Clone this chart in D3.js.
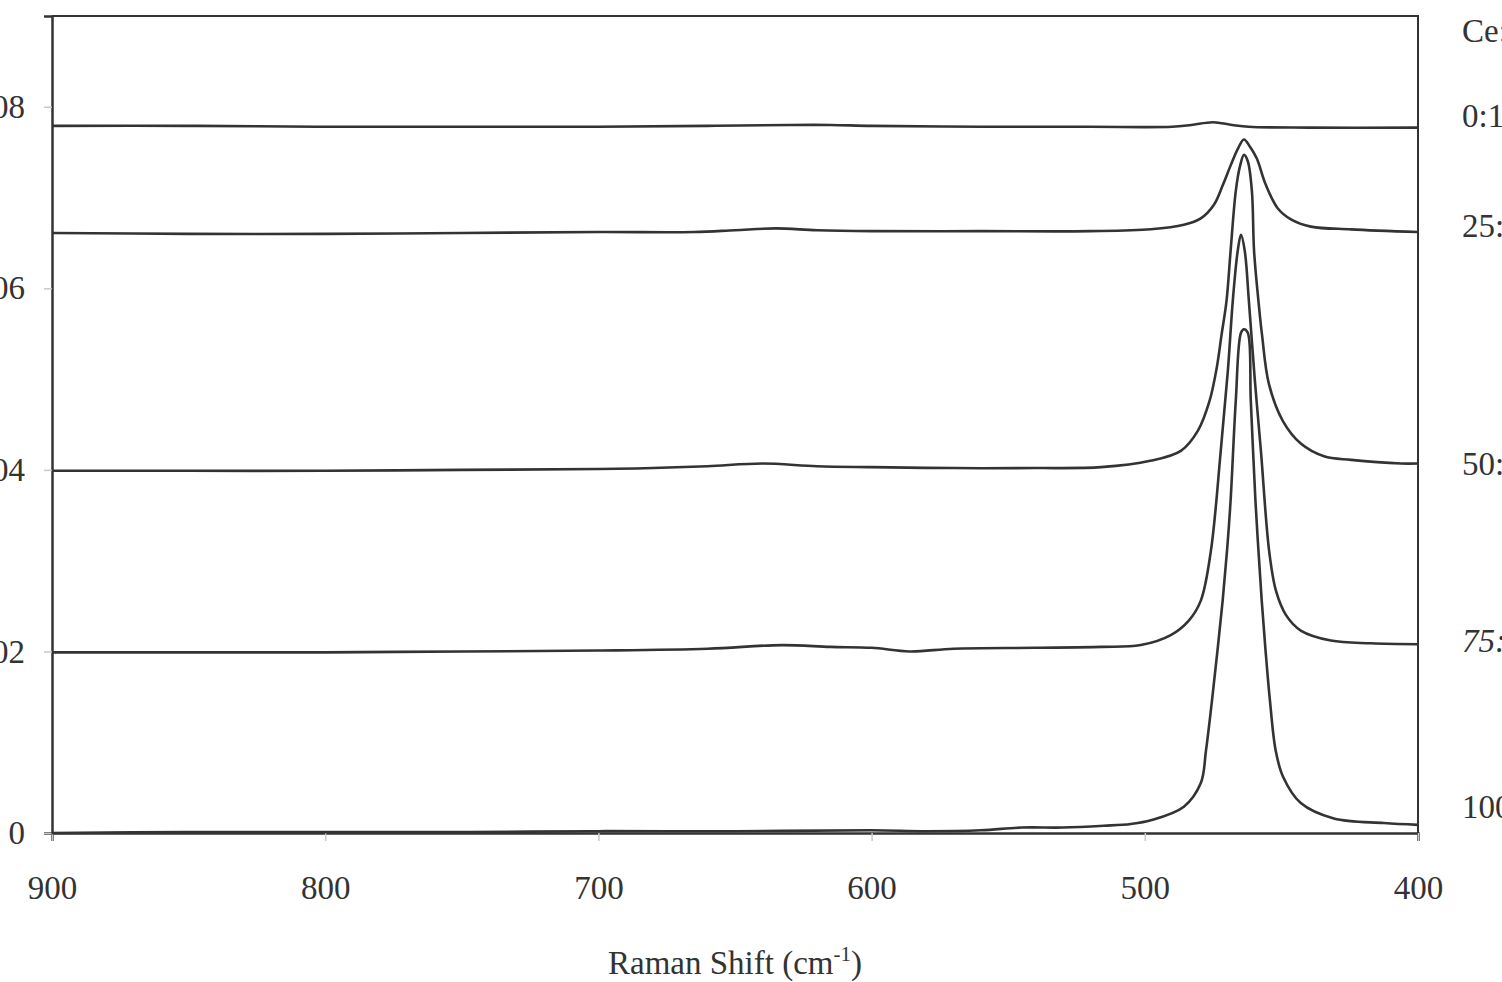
<!DOCTYPE html>
<html>
<head>
<meta charset="utf-8">
<script src="https://cdn.jsdelivr.net/npm/d3@7/dist/d3.min.js"></script>
<style>
  html, body { margin: 0; padding: 0; background: #fff; }
  svg { display: block; }
  text { font-family: "Liberation Serif", "Times New Roman", serif; fill: #333; }
</style>
</head>
<body>
<svg id="chart" width="1502" height="982"></svg>
<script>
// Raman spectra of Ce:Zr mixed oxides, offset vertically for clarity.
// Each series: [Raman shift (cm-1), intensity]
const ceZr_0_100 = [
  [900,0.0779],[850,0.0779],[800,0.0778],[750,0.0778],[700,0.0778],[660,0.0779],
  [630,0.0780],[615,0.0780],[600,0.0779],[560,0.0778],[520,0.0778],[490,0.0778],
  [483,0.0780],[475,0.0783],[468,0.0780],[462,0.0778],[440,0.0777],[400,0.0777]
];
const ceZr_25_75 = [
  [900,0.0661],[850,0.0660],[800,0.0660],[750,0.0661],[700,0.0662],[665,0.0662],
  [650,0.0664],[635,0.0666],[620,0.0664],[600,0.0663],[560,0.0663],[520,0.0663],
  [497.8,0.0665],[485.7,0.0670],[479.5,0.0677],[474.7,0.0692],[471.4,0.0714],
  [468.5,0.0736],[465.9,0.0754],[463.7,0.0764],[461.5,0.0756],[459.0,0.0743],
  [455.7,0.0714],[451.3,0.0688],[446.5,0.0676],[439.2,0.0668],[424.5,0.0665],
  [400,0.0662]
];
const ceZr_50_50 = [
  [900,0.0399],[850,0.0399],[800,0.0399],[750,0.0400],[700,0.0401],[680,0.0402],
  [660,0.0404],[640,0.0407],[620,0.0404],[600,0.0403],[570,0.0402],[540,0.0402],
  [516,0.0403],[498,0.0410],[486.8,0.0421],[480.6,0.0443],[476.3,0.0476],
  [473.7,0.0512],[471.9,0.0549],[470.1,0.0586],[468.6,0.0641],[466.7,0.0707],
  [465.2,0.0734],[463.7,0.0747],[462.3,0.0740],[460.8,0.0707],[460.0,0.0641],
  [458.4,0.0586],[457.1,0.0549],[454.6,0.0495],[449.5,0.0454],[442.9,0.0429],
  [434.4,0.0415],[424.5,0.0411],[406.2,0.0407],[400,0.0407]
];
const ceZr_75_25 = [
  [900,0.0199],[850,0.0199],[800,0.0199],[750,0.0200],[700,0.0201],[660,0.0203],
  [633,0.0207],[615,0.0205],[600,0.0204],[586,0.0200],[570,0.0203],[540,0.0204],
  [516,0.0205],[501.5,0.0207],[490.5,0.0218],[483.9,0.0234],[479.5,0.0256],
  [475.8,0.0311],[472.2,0.0421],[469.6,0.0509],[467.8,0.0586],[466.0,0.0641],
  [464.8,0.0659],[463.4,0.0641],[461.9,0.0586],[459.7,0.0498],[457.5,0.0421],
  [454.5,0.0311],[452.0,0.0267],[448.3,0.0240],[442.9,0.0223],[431.9,0.0212],
  [417.2,0.0209],[400,0.0208]
];
const ceZr_100_0 = [
  [900,0.0000],[850,0.0001],[800,0.0001],[750,0.0001],[700,0.0002],[650,0.0002],
  [600,0.0003],[580,0.0002],[560,0.0003],[545,0.0006],[530,0.0006],[515,0.0008],
  [505.1,0.0010],[497.8,0.0014],[485.7,0.0029],[479.5,0.0055],[477.6,0.0091],
  [475.4,0.0146],[473.4,0.0201],[471.5,0.0256],[469.9,0.0311],[468.6,0.0366],
  [466.7,0.0476],[464.8,0.0551],[463.7,0.0555],[462.3,0.0551],[461.2,0.0476],
  [459.5,0.0366],[458.4,0.0311],[457.2,0.0256],[455.8,0.0201],[454.2,0.0146],
  [452.1,0.0091],[449.4,0.0062],[442.9,0.0033],[430.8,0.0016],[412.5,0.0011],
  [400,0.0009]
];

const seriesList = [ceZr_0_100, ceZr_25_75, ceZr_50_50, ceZr_75_25, ceZr_100_0];
const seriesLabels = ["0:100", "25:75", "50:50", "75:25", "100:0"];
const legendTitle = "Ce:Zr";
const xTicks = [900, 800, 700, 600, 500, 400];
const yTicks = [0, 0.02, 0.04, 0.06, 0.08];

const svg = d3.select("#chart");
const ink = "#333";
const fontSize = 33;

const x = d3.scaleLinear().domain([900, 400]).range([52, 1418]);
const y = d3.scaleLinear().domain([0, 0.09]).range([833, 16]);

// plot frame (top and right edges)
svg.append("path")
  .attr("d", `M${x(900)},${y(0.09)}H${x(400)}V${y(0)}`)
  .attr("fill", "none").attr("stroke", ink).attr("stroke-width", 2);

// y axis
const yAxis = svg.append("g")
  .attr("transform", `translate(${x(900)},0)`)
  .call(d3.axisLeft(y).tickValues(yTicks).tickSize(8).tickPadding(19)
    .tickFormat(d => d === 0 ? "0" : d3.format(".2f")(d)));
yAxis.select(".domain").attr("stroke", ink).attr("stroke-width", 2.5);
yAxis.selectAll(".tick line").attr("stroke", "#c8c8c8").attr("stroke-width", 1.5);
yAxis.selectAll(".tick text").attr("font-size", fontSize).attr("fill", ink)
  .style("font-family", "'Liberation Serif', serif");

// x axis
const xAxis = svg.append("g")
  .attr("transform", `translate(0,${y(0)})`)
  .call(d3.axisBottom(x).tickValues(xTicks).tickSize(8).tickPadding(35)
    .tickFormat(d3.format("d")));
xAxis.select(".domain").attr("stroke", ink).attr("stroke-width", 2.5);
xAxis.selectAll(".tick line").attr("stroke", "#c8c8c8").attr("stroke-width", 1.5);
xAxis.selectAll(".tick text").attr("font-size", fontSize).attr("fill", ink)
  .style("font-family", "'Liberation Serif', serif");

// x axis title with superscript
const title = svg.append("text")
  .attr("x", 735).attr("y", 974)
  .attr("text-anchor", "middle").attr("font-size", fontSize);
title.append("tspan").text("Raman Shift (cm");
title.append("tspan").attr("font-size", 21).attr("dy", -13).text("-1");
title.append("tspan").attr("dy", 13).text(")");

// spectra
const line = d3.line()
  .x(d => x(d[0]))
  .y(d => y(d[1]))
  .curve(d3.curveCatmullRom.alpha(0.5));

svg.append("g").selectAll("path")
  .data(seriesList)
  .join("path")
  .attr("d", line)
  .attr("fill", "none")
  .attr("stroke", ink)
  .attr("stroke-width", 2.6)
  .attr("stroke-linejoin", "round");

// series labels on the right, placed level with each baseline
const labelY = [115, 225, 463, 640, 806];
svg.append("text")
  .attr("x", 1462).attr("y", 30).attr("dy", "0.35em")
  .attr("font-size", fontSize).text(legendTitle);
svg.append("g").selectAll("text")
  .data(seriesLabels)
  .join("text")
  .attr("x", 1462)
  .attr("y", (d, i) => labelY[i])
  .attr("dy", "0.35em")
  .attr("font-size", fontSize)
  .attr("font-style", d => d === "75:25" ? "italic" : "normal")
  .text(d => d);
</script>
</body>
</html>
